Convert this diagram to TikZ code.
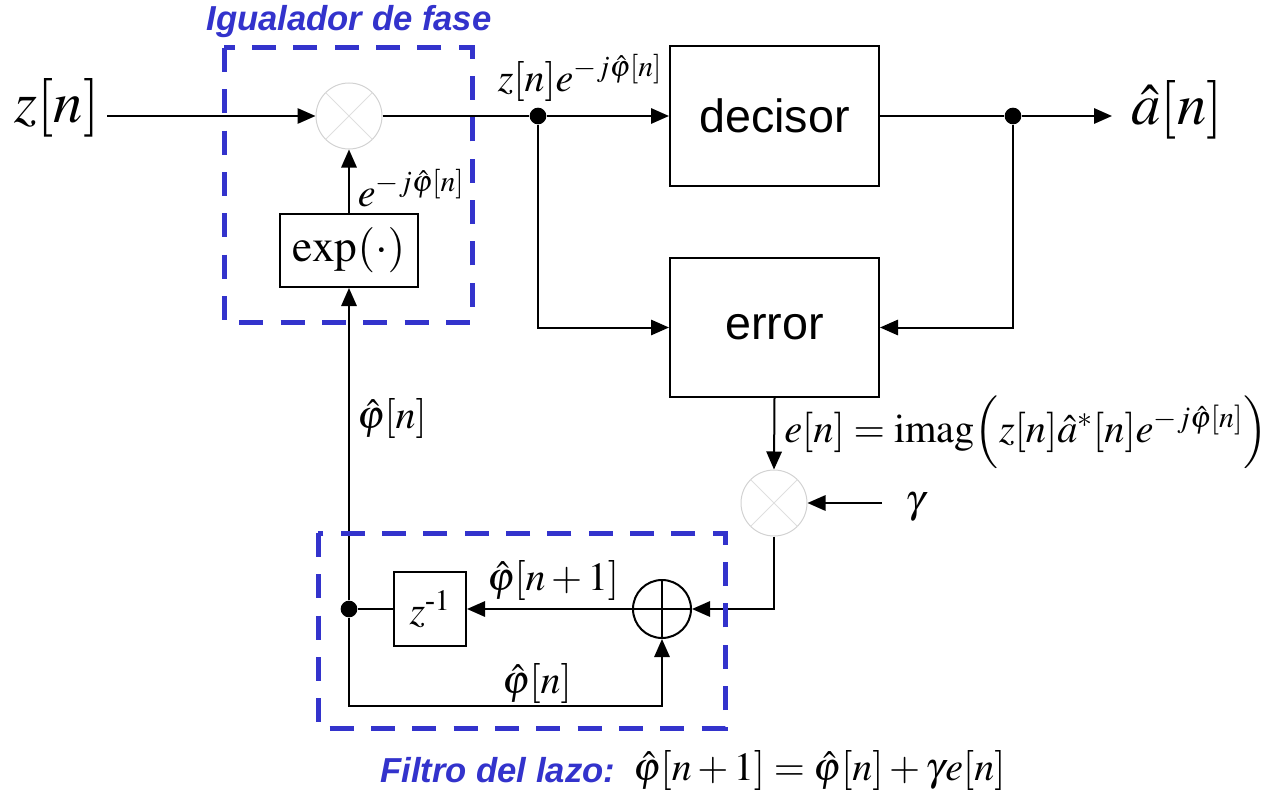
\documentclass[tikz,border=0pt]{standalone}
\usepackage{amsmath}
\usepackage{mathptmx}
\usepackage{fontspec}
\setmainfont{Liberation Serif}
\setsansfont{Liberation Sans}
\usetikzlibrary{arrows.meta}
\definecolor{fblue}{RGB}{51,51,204}
\tikzset{
 ln/.style={line width=1.5pt},
 arr/.style={ln,-{Triangle[length=13.5pt,width=11.5pt]}},
 blockbox/.style={draw,line width=1.5pt,fill=white,inner sep=0pt},
 mult/.style={circle,draw=gray!35,line width=0.75pt,minimum size=49.5pt,inner sep=0pt},
 adder/.style={circle,draw,line width=1.5pt,minimum size=43.5pt,inner sep=0pt},
 dotn/.style={circle,fill,inner sep=0pt,minimum size=12.5pt},
 dashbox/.style={draw=fblue,line width=3.75pt,dash pattern=on 18pt off 13pt},
 mlab/.style={font=\fontsize{30}{36}\selectfont,inner sep=0pt},
 elab/.style={font=\fontsize{30.3}{36}\selectfont,inner sep=0pt},
 biglab/.style={font=\fontsize{44}{52}\selectfont,inner sep=0pt},
 sanslab/.style={font=\sffamily\fontsize{35}{42}\selectfont},
 bluelab/.style={text=fblue,font=\sffamily\bfseries\itshape\fontsize{26}{31}\selectfont,inner sep=0pt},
}
\begin{document}
\begin{tikzpicture}[x=0.75pt,y=-0.75pt]
\useasboundingbox (0,0) rectangle (1272,792);
% nodes
\node[biglab] (zin) at (57,108) {$z[n]$};
\coordinate (zinE) at (107,116);
\node[mult] (m1) at (349,116) {};
\node[blockbox,minimum width=103.5pt,minimum height=54.75pt] (expb) at (349,250.5) {\fontsize{34}{40}\selectfont$\exp(\cdot)$};
\node[dotn] (d1) at (538,116) {};
\node[blockbox,sanslab,minimum width=156.75pt,minimum height=105pt] (dec) at (774.5,116) {decisor};
\node[dotn] (d2) at (1013,116) {};
\coordinate (aout) at (1112,116);
\node[biglab] (ahat) at (1177,110) {$\hat a[n]$};
\node[blockbox,sanslab,minimum width=156.75pt,minimum height=104.25pt] (err) at (774.5,327.5) {error};
\node[mult] (m2) at (774,503) {};
\coordinate (gin) at (882,503);
\node[mlab] (gam) at (915,507) {$\gamma$};
\node[adder] (add) at (662,609) {};
\node[blockbox,minimum width=54pt,minimum height=55.5pt] (zd) at (430,609) {\fontsize{30}{36}\selectfont$z^{\text{-}1}$};
\node[dotn] (d3) at (349,609) {};
\coordinate (bl) at (349,706);
% multiplier crosses and adder plus
\draw[gray!25,line width=0.75pt] (m1.north west) -- (m1.south east) (m1.north east) -- (m1.south west);
\draw[gray!25,line width=0.75pt] (m2.north west) -- (m2.south east) (m2.north east) -- (m2.south west);
\draw[ln] (add.north) -- (add.south) (add.west) -- (add.east);
% connectors
\draw[arr] (zinE) -- (m1);
\draw[ln] (m1) -- (d1);
\draw[arr] (d1) -- (dec.west);
\draw[ln] (dec.east) -- (d2);
\draw[arr] (d2) -- (aout);
\draw[arr] (expb.north) -- (m1.south);
\draw[arr] (d1) |- (err.west);
\draw[arr] (d2) |- (err.east);
\draw[arr] (err.south) -- (m2.north);
\draw[arr] (gin) -- (m2.east);
\draw[arr] (m2.south) |- (add.east);
\draw[arr] (add.west) -- (zd.east);
\draw[ln] (zd.west) -- (d3);
\draw[arr] (d3) -- (expb.south);
\draw[arr] (d3) -- (bl) -| (add.south);
% labels
\node[mlab] (l1) at (580,78) {$z[n]e^{-j\hat\varphi[n]}$};
\node[mlab] (l2) at (411,188) {$e^{-j\hat\varphi[n]}$};
\node[mlab] (l3) at (392,418) {$\hat\varphi[n]$};
\node[mlab] (l4) at (553,580) {$\hat\varphi[n+1]$};
\node[mlab] (l5) at (537,683) {$\hat\varphi[n]$};
\node[elab,anchor=west] (l6) at (784,432) {$e[n]=\mathrm{imag}\Bigl(z[n]\hat a^*[n]e^{-j\hat\varphi[n]}\Bigr)$};
\node[bluelab] (t1) at (349,22) {Igualador de fase};
\node[bluelab,anchor=west] (t2) at (380,770) {Filtro del lazo:};
\node[mlab,anchor=west] (l7) at (633,770) {$\hat\varphi[n+1]=\hat\varphi[n]+\gamma e[n]$};
% dashed groups
\draw[dashbox] (224,48) rectangle (472,322);
\draw[dashbox] (318,533) rectangle (725,728);
\end{tikzpicture}
\end{document}
